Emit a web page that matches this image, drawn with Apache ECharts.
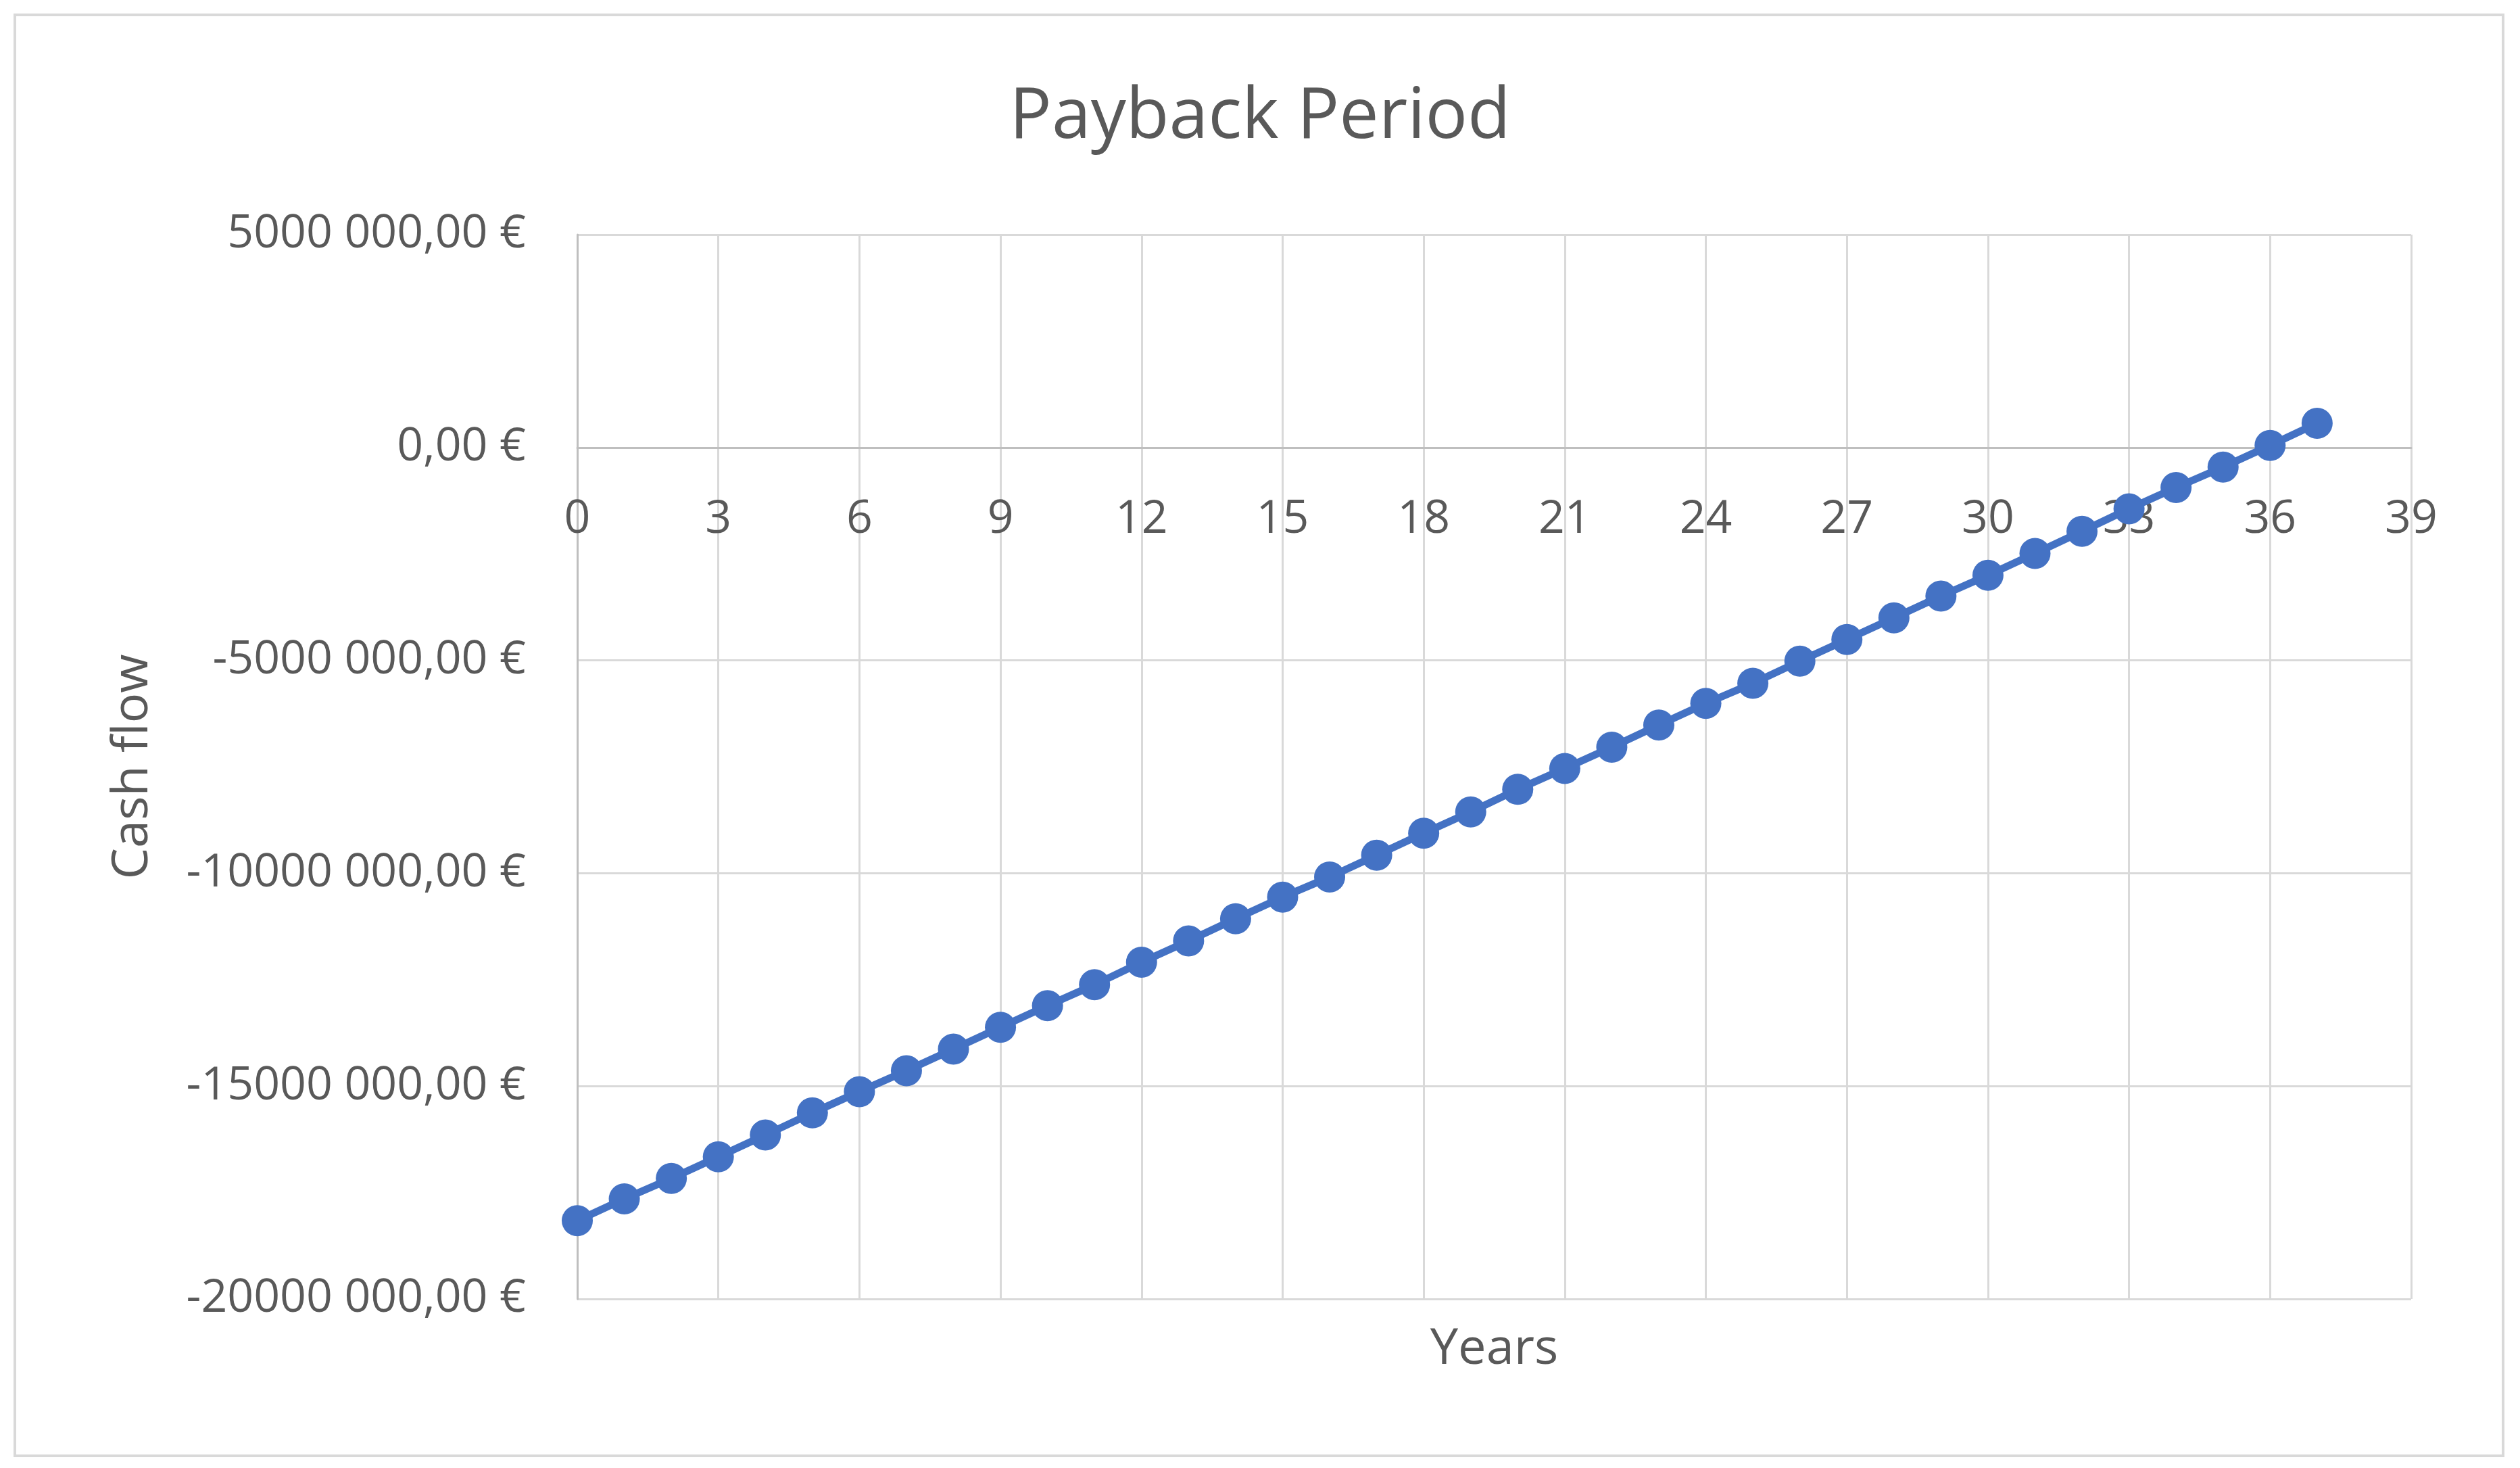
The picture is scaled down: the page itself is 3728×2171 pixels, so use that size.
<!DOCTYPE html>
<html>
<head>
<meta charset="utf-8">
<script src="https://cdn.jsdelivr.net/npm/echarts@6/dist/echarts.min.js"></script>
<style>
  html, body { margin: 0; padding: 0; background: #ffffff; }
  #chart { width: 3728px; height: 2171px; }
</style>
</head>
<body>
<div id="chart"></div>
<script>
// Data
const titleText = 'Payback Period';
const xAxisName = 'Years';
const yAxisName = 'Cash flow';
const years = [0,1,2,3,4,5,6,7,8,9,10,11,12,13,14,15,16,17,18,19,20,21,22,23,24,25,26,27,28,29,30,31,32,33,34,35,36,37];
const cashFlow = [
  -18160000, -17650000, -17170000, -16660000, -16150000, -15630000, -15130000, -14640000,
  -14130000, -13620000, -13110000, -12620000, -12090000, -11590000, -11070000, -10560000,
  -10090000, -9575000, -9060000, -8560000, -8030000, -7540000, -7040000, -6520000,
  -6010000, -5540000, -5020000, -4510000, -4000000, -3490000, -3000000, -2490000,
  -1970000, -1440000, -940000, -460000, 50000, 570000
];
const xTicks = { min: 0, max: 39, interval: 3 };
const yTicks = { min: -20000000, max: 5000000, interval: 5000000 };

function euro(v) {
  const sign = v < 0 ? '-' : '';
  const abs = Math.abs(Math.round(v));
  const head = Math.floor(abs / 1000);
  const tail = String(abs % 1000).padStart(3, '0');
  const body = head > 0 ? head + ' ' + tail : String(abs % 1000);
  return sign + body + ',00 €';
}

// Layout: the x axis sits on the zero line of the y scale
const GRID = { left: 854, right: 161, top: 347, bottom: 250 };
const CHART_H = 2171;
const plotH = CHART_H - GRID.top - GRID.bottom;
const zeroFromBottom = plotH * (0 - yTicks.min) / (yTicks.max - yTicks.min);

const FONT = '"Open Sans", "Noto Sans", sans-serif';
const TXT = '#595959';
const chart = echarts.init(document.getElementById('chart'), null, { renderer: 'canvas' });
chart.setOption({
  backgroundColor: '#ffffff',
  animation: false,
  title: {
    text: titleText,
    left: 'center',
    top: 117,
    textStyle: { fontFamily: FONT, fontSize: 104, fontWeight: 'normal', color: TXT }
  },
  graphic: [{
    type: 'rect',
    shape: { x: 22, y: 22, width: 3681, height: 2131 },
    style: { fill: 'none', stroke: '#d9d9d9', lineWidth: 4 },
    silent: true
  }],
  grid: { left: GRID.left, right: GRID.right, top: GRID.top, bottom: GRID.bottom, containLabel: false, outerBoundsMode: 'none' },
  xAxis: {
    type: 'value',
    position: 'bottom',
    offset: -zeroFromBottom,
    min: xTicks.min, max: xTicks.max, interval: xTicks.interval,
    name: xAxisName,
    nameLocation: 'middle',
    nameGap: 38 + zeroFromBottom,
    nameTextStyle: { fontFamily: FONT, fontSize: 74, color: TXT },
    axisLine: { show: true, onZero: false, lineStyle: { color: '#bfbfbf', width: 3 } },
    axisTick: { show: false },
    axisLabel: { margin: 73, fontFamily: FONT, fontSize: 68, color: TXT },
    splitLine: { show: true, lineStyle: { color: '#d9d9d9', width: 3 } }
  },
  yAxis: {
    type: 'value',
    min: yTicks.min, max: yTicks.max, interval: yTicks.interval,
    name: yAxisName,
    nameLocation: 'middle',
    nameGap: 620,
    nameTextStyle: { fontFamily: FONT, fontSize: 74, color: TXT },
    axisLine: { show: true, onZero: false, lineStyle: { color: '#bfbfbf', width: 3 } },
    axisTick: { show: false },
    axisLabel: { margin: 76, fontFamily: FONT, fontSize: 68, color: TXT, formatter: euro },
    splitLine: { show: true, lineStyle: { color: '#d9d9d9', width: 3 } }
  },
  series: [{
    type: 'line',
    data: years.map((y, i) => [y, cashFlow[i]]),
    symbol: 'circle',
    symbolSize: 46,
    lineStyle: { color: '#4472C4', width: 11 },
    itemStyle: { color: '#4472C4' }
  }]
});
</script>
</body>
</html>
